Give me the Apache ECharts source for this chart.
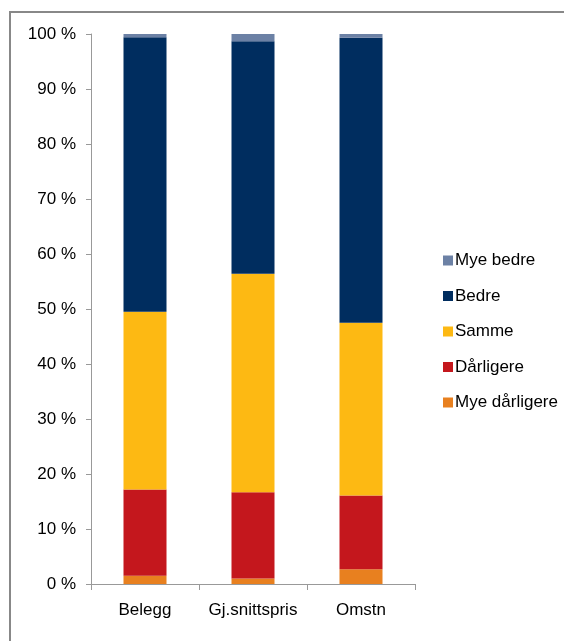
<!DOCTYPE html>
<html>
<head>
<meta charset="utf-8">
<script src="https://cdn.jsdelivr.net/npm/echarts@6/dist/echarts.min.js"></script>
<style>
  html, body { margin: 0; padding: 0; background: #fff; }
  #chart { width: 564px; height: 641px; }
</style>
</head>
<body>
<div id="chart"></div>
<script>
// kategorier og verdier (prosent av svar)
const categories = ['Belegg', 'Gj.snittspris', 'Omstn'];
const myeDarligere = [1.5, 1.0, 2.7];
const darligere = [15.7, 15.7, 13.4];
const samme = [32.3, 39.7, 31.4];
const bedre = [49.9, 42.3, 51.8];
const myeBedre = [0.6, 1.3, 0.7];

const seriesNames = ['Mye dårligere', 'Dårligere', 'Samme', 'Bedre', 'Mye bedre'];
const seriesData = [myeDarligere, darligere, samme, bedre, myeBedre];
const colors = ['#e8801f', '#c4171d', '#fdb913', '#002d5f', '#6c81a5'];

const chart = echarts.init(document.getElementById('chart'));

chart.setOption({
  animation: false,
  textStyle: { fontFamily: 'Liberation Sans, Arial, sans-serif' },
  grid: { left: 91, top: 34, right: 149, bottom: 57 },
  legend: {
    orient: 'vertical',
    left: 438,
    top: 247,
    itemWidth: 10,
    itemHeight: 10,
    itemGap: 18.5,
    icon: 'rect',
    textStyle: { fontSize: 17, color: '#000', padding: [0, 0, 0, -3] },
    data: seriesNames.slice().reverse()
  },
  xAxis: {
    type: 'category',
    data: categories,
    axisLine: { lineStyle: { color: '#999', width: 1 } },
    axisTick: { show: true, length: 6, lineStyle: { color: '#999' } },
    axisLabel: { color: '#000', fontSize: 17, margin: 18, interval: 0, hideOverlap: false }
  },
  yAxis: {
    type: 'value',
    min: 0,
    max: 100,
    interval: 10,
    axisLine: { show: true, lineStyle: { color: '#999', width: 1 } },
    axisTick: { show: true, length: 5, lineStyle: { color: '#999' } },
    splitLine: { show: false },
    axisLabel: { color: '#000', fontSize: 17, margin: 15, formatter: v => v + ' %' }
  },
  graphic: [{
    type: 'polyline',
    shape: { points: [[10, 641], [10, 12], [564, 12]] },
    style: { stroke: '#888', lineWidth: 2, fill: null }
  }],
  series: seriesNames.map((name, i) => ({
    name: name,
    type: 'bar',
    stack: 'total',
    barWidth: 43,
    itemStyle: { color: colors[i] },
    data: seriesData[i]
  }))
});
</script>
</body>
</html>
